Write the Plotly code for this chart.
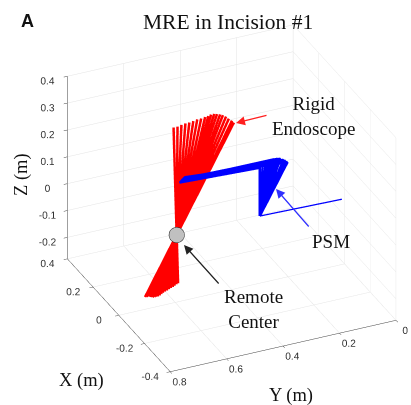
import plotly.graph_objects as go

# ---------------- data (metres) ----------------
# Rigid endoscope: sampled poses, each a straight line through the remote center
endo_tip_y = [0.606, 0.592, 0.578, 0.564, 0.550, 0.536, 0.522, 0.508, 0.494, 0.483,
              0.473, 0.462, 0.452, 0.441, 0.431, 0.420, 0.410, 0.399, 0.392]
endo_tip_z = [0.373, 0.373, 0.376, 0.378, 0.378, 0.380, 0.383, 0.383, 0.385, 0.386,
              0.389, 0.389, 0.386, 0.382, 0.377, 0.369, 0.359, 0.349, 0.340]
endo_base_y = [0.590, 0.596, 0.603, 0.609, 0.616, 0.623, 0.630, 0.637, 0.644, 0.650,
               0.656, 0.662, 0.668, 0.674, 0.680, 0.687, 0.693, 0.701, 0.707]
endo_base_z = [-0.211, -0.213, -0.217, -0.220, -0.222, -0.225, -0.228, -0.230, -0.233, -0.236,
               -0.240, -0.242, -0.242, -0.242, -0.242, -0.239, -0.236, -0.235, -0.234]
endo_x = 0.0

# PSM: fixed base + first joint, moving elbow and tip
psm_x = -0.03
psm_base = (0.023, -0.018)      # (y, z)
psm_joint1 = (0.314, -0.011)    # (y, z)
psm_elbow_y = [0.314, 0.304, 0.293, 0.283, 0.272, 0.262, 0.251, 0.241, 0.230, 0.223, 0.216]
psm_elbow_z = [0.169, 0.174, 0.179, 0.182, 0.185, 0.188, 0.187, 0.185, 0.178, 0.173, 0.166]
psm_tip_y = [0.599, 0.597, 0.595, 0.593, 0.592, 0.590, 0.588, 0.586, 0.585, 0.583, 0.581]
psm_tip_z = [0.182, 0.184, 0.185, 0.187, 0.188, 0.190, 0.191, 0.193, 0.194, 0.196, 0.197]

# Remote center marker
rc_point = (-0.03, 0.609, -0.010)

x_ticks = [-0.4, -0.2, 0, 0.2, 0.4]
y_ticks = [0, 0.2, 0.4, 0.6, 0.8]
z_ticks = [-0.2, -0.1, 0, 0.1, 0.2, 0.3, 0.4]
x_range = [-0.4, 0.4]
y_range = [0, 0.8]
z_range = [-0.28, 0.4]

# ---------------- build traces ----------------
ex, ey, ez = [], [], []
for ty, tz, by, bz in zip(endo_tip_y, endo_tip_z, endo_base_y, endo_base_z):
    ex += [endo_x, endo_x, None]
    ey += [ty, by, None]
    ez += [tz, bz, None]

px_, py_, pz_ = [], [], []
for ey2, ez2, ty, tz in zip(psm_elbow_y, psm_elbow_z, psm_tip_y, psm_tip_z):
    px_ += [psm_x, psm_x, psm_x, None]
    py_ += [psm_joint1[0], ey2, ty, None]
    pz_ += [psm_joint1[1], ez2, tz, None]

fig = go.Figure()
fig.add_trace(go.Scatter3d(x=ex, y=ey, z=ez, mode="lines",
                           line=dict(color="#ff0000", width=5), showlegend=False, hoverinfo="skip"))
fig.add_trace(go.Scatter3d(x=[psm_x, psm_x], y=[psm_base[0], psm_joint1[0]],
                           z=[psm_base[1], psm_joint1[1]], mode="lines",
                           line=dict(color="#0000ff", width=2.5), showlegend=False, hoverinfo="skip"))
fig.add_trace(go.Scatter3d(x=px_, y=py_, z=pz_, mode="lines",
                           line=dict(color="#0000ff", width=5), showlegend=False, hoverinfo="skip"))
fig.add_trace(go.Scatter3d(x=[rc_point[0]], y=[rc_point[1]], z=[rc_point[2]], mode="markers",
                           marker=dict(size=9, color="#c0c0c0", line=dict(color="#222222", width=1)),
                           showlegend=False, hoverinfo="skip"))

def fmt(v):
    return "0" if v == 0 else ("%g" % v)

axis_common = dict(showbackground=False, showgrid=True, gridcolor="#e3e3e3", gridwidth=1,
                   zeroline=False, showline=True, linecolor="#404040", linewidth=1,
                   ticks="outside", ticklen=4, tickcolor="#404040", tickangle=0,
                   tickfont=dict(family="Liberation Sans", size=11, color="#333333"),
                   title=dict(text=""), showspikes=False)

s = 1.225
cen = (0.044, 0.122, -0.018)
vd = (-0.788 * 2, 0.359 * 2, 0.5 * 2)
fig.update_layout(
    width=411, height=405,
    margin=dict(l=0, r=0, t=0, b=0),
    paper_bgcolor="white",
    scene=dict(
        domain=dict(x=[0, 1.0], y=[0, 1.0]),
        xaxis=dict(range=x_range, tickvals=x_ticks, ticktext=[fmt(v) for v in x_ticks], **axis_common),
        yaxis=dict(range=y_range, tickvals=y_ticks, ticktext=[fmt(v) for v in y_ticks], **axis_common),
        zaxis=dict(range=z_range, tickvals=z_ticks, ticktext=[fmt(v) for v in z_ticks], **axis_common),
        aspectmode="manual",
        aspectratio=dict(x=1 * s, y=1 * s, z=(z_range[1] - z_range[0]) / 0.8 * s),
        camera=dict(eye=dict(x=cen[0] + vd[0], y=cen[1] + vd[1], z=cen[2] + vd[2]),
                    up=dict(x=0, y=0, z=1), center=dict(x=cen[0], y=cen[1], z=cen[2]),
                    projection=dict(type="orthographic")),
    ),
)

W, H = 411.0, 405.0
def P(x, y):
    return x / W, 1 - y / H

serif = "Liberation Serif"
ann = []
def text(s, x, y, size, family=serif, **kw):
    xx, yy = P(x, y)
    ann.append(dict(text=s, x=xx, y=yy, xref="paper", yref="paper", showarrow=False,
                    xanchor="center", yanchor="middle",
                    font=dict(family=family, size=size, color="#111111"), **kw))

def arrow(tipx, tipy, tailx, taily, color):
    xx, yy = P(tipx, tipy)
    ann.append(dict(text="", x=xx, y=yy, xref="paper", yref="paper", showarrow=True,
                    ax=tailx - tipx, ay=taily - tipy, arrowcolor=color, arrowwidth=1.2,
                    arrowhead=2, arrowsize=1.5))

text("<b>A</b>", 27, 21, 18, family="Liberation Sans")
text("MRE in Incision #1", 228, 22, 21.5)
text("Rigid<br>Endoscope", 313, 116, 19)
text("PSM", 331, 241, 19)
text("Remote<br>Center", 253, 309, 19)
text("Z (m)", 22, 175, 18.5, textangle=-90)
text("X (m)", 81, 380, 18.5)
text("Y (m)", 291, 395, 18.5)
arrow(236, 123, 268, 115, "#ff2020")
arrow(276, 189, 310, 228, "#3030ff")
arrow(184, 245, 220, 285, "#222222")
fig.update_layout(annotations=ann)

fig.write_html("out.html", config={"displayModeBar": False})
